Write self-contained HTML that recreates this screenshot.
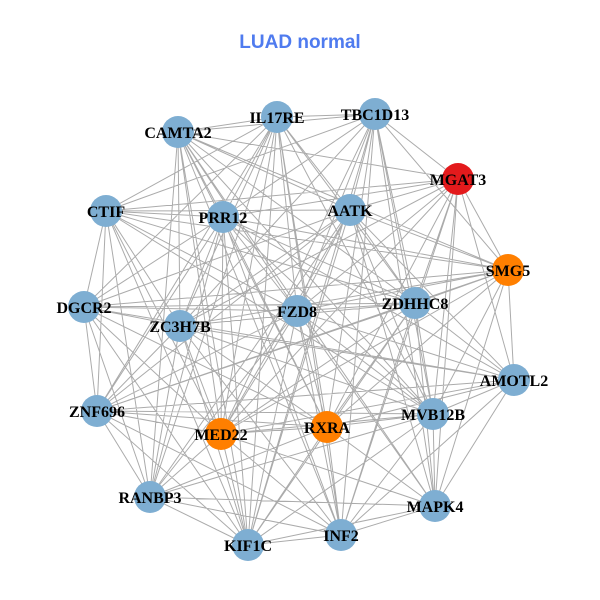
<!DOCTYPE html>
<html><head><meta charset="utf-8"><style>
html,body{margin:0;padding:0;background:#fff;width:600px;height:600px;overflow:hidden}
svg{display:block}
.t{font-family:"Liberation Sans",sans-serif;font-weight:bold;font-size:19px;fill:#4f7bef}
.l{font-family:"Liberation Serif",serif;font-weight:bold;font-size:16px;fill:#000}
</style></head><body>
<svg width="600" height="600" viewBox="0 0 600 600">
<text class="t" x="300" y="48" text-anchor="middle">LUAD normal</text>
<path fill="none" stroke="#ababab" stroke-width="1" d="
M277 117L375 114M277 117L178 132M277 117L106 211M277 117L223 217M277 117L350 210M277 117L84 307M277 117L297 311M277 117L180 326M277 117L97 411M277 117L221 434M277 117L327 427M277 117L433 414M277 117L150 497M277 117L248 545M277 117L341 535M277 117L415 303
M375 114L178 132M375 114L458 179M375 114L223 217M375 114L350 210M375 114L106 211M375 114L297 311M375 114L415 303M375 114L180 326M375 114L221 434M375 114L327 427M375 114L433 414M375 114L435 506M375 114L248 545M375 114L341 535M375 114L508 270
M178 132L223 217M178 132L350 210M178 132L508 270M178 132L297 311M178 132L180 326M178 132L221 434M178 132L327 427M178 132L433 414M178 132L150 497M178 132L435 506M178 132L248 545M178 132L341 535M178 132L458 179M178 132L415 303
M458 179L106 211M458 179L223 217M458 179L350 210M458 179L508 270M458 179L415 303M458 179L514 380M458 179L433 414M458 179L435 506M458 179L341 535M458 179L297 311M458 179L327 427M458 179L221 434M458 179L180 326
M106 211L223 217M106 211L350 210M106 211L508 270M106 211L84 307M106 211L297 311M106 211L180 326M106 211L97 411M106 211L221 434M106 211L150 497M106 211L248 545M106 211L415 303M106 211L433 414
M223 217L508 270M223 217L84 307M223 217L297 311M223 217L415 303M223 217L180 326M223 217L514 380M223 217L97 411M223 217L327 427M223 217L433 414M223 217L150 497M223 217L248 545M223 217L341 535M223 217L221 434
M350 210L508 270M350 210L84 307M350 210L297 311M350 210L415 303M350 210L180 326M350 210L514 380M350 210L221 434M350 210L433 414M350 210L150 497M350 210L435 506M350 210L248 545M350 210L97 411
M508 270L84 307M508 270L297 311M508 270L415 303M508 270L180 326M508 270L514 380M508 270L221 434M508 270L433 414M508 270L435 506M508 270L327 427M508 270L97 411
M84 307L297 311M84 307L415 303M84 307L180 326M84 307L514 380M84 307L97 411M84 307L221 434M84 307L327 427M84 307L150 497M84 307L248 545
M297 311L415 303M297 311L514 380M297 311L97 411M297 311L221 434M297 311L327 427M297 311L433 414M297 311L150 497M297 311L435 506M297 311L248 545M297 311L341 535
M415 303L180 326M415 303L514 380M415 303L97 411M415 303L221 434M415 303L327 427M415 303L433 414M415 303L435 506M415 303L248 545M415 303L341 535
M180 326L514 380M180 326L221 434M180 326L327 427M180 326L433 414M180 326L150 497M180 326L248 545M180 326L341 535M180 326L97 411
M514 380L97 411M514 380L221 434M514 380L327 427M514 380L433 414M514 380L435 506M514 380L341 535
M97 411L221 434M97 411L327 427M97 411L433 414M97 411L150 497M97 411L248 545M97 411L341 535
M221 434L327 427M221 434L433 414M221 434L150 497M221 434L435 506M221 434L248 545M221 434L341 535
M327 427L433 414M327 427L150 497M327 427L435 506M327 427L248 545M327 427L341 535
M433 414L150 497M433 414L435 506M433 414L248 545M433 414L341 535
M150 497L435 506M150 497L248 545M150 497L341 535
M435 506L248 545M435 506L341 535M248 545L341 535"/>
<g>
<circle cx="277" cy="117" r="16" fill="#7eaed2"/>
<circle cx="375" cy="114" r="16" fill="#7eaed2"/>
<circle cx="178" cy="132" r="16" fill="#7eaed2"/>
<circle cx="458" cy="179" r="16" fill="#e31a1c"/>
<circle cx="106" cy="211" r="16" fill="#7eaed2"/>
<circle cx="223" cy="217" r="16" fill="#7eaed2"/>
<circle cx="350" cy="210" r="16" fill="#7eaed2"/>
<circle cx="508" cy="270" r="16" fill="#ff7f00"/>
<circle cx="84" cy="307" r="16" fill="#7eaed2"/>
<circle cx="297" cy="311" r="16" fill="#7eaed2"/>
<circle cx="415" cy="303" r="16" fill="#7eaed2"/>
<circle cx="180" cy="326" r="16" fill="#7eaed2"/>
<circle cx="514" cy="380" r="16" fill="#7eaed2"/>
<circle cx="97" cy="411" r="16" fill="#7eaed2"/>
<circle cx="221" cy="434" r="16" fill="#ff7f00"/>
<circle cx="327" cy="427" r="16" fill="#ff7f00"/>
<circle cx="433" cy="414" r="16" fill="#7eaed2"/>
<circle cx="150" cy="497" r="16" fill="#7eaed2"/>
<circle cx="435" cy="506" r="16" fill="#7eaed2"/>
<circle cx="248" cy="545" r="16" fill="#7eaed2"/>
<circle cx="341" cy="535" r="16" fill="#7eaed2"/>
</g>
<g class="l" text-anchor="middle">
<text x="277" y="123">IL17RE</text>
<text x="375" y="120">TBC1D13</text>
<text x="178" y="138">CAMTA2</text>
<text x="458" y="185">MGAT3</text>
<text x="106" y="217">CTIF</text>
<text x="223" y="223">PRR12</text>
<text x="350" y="216">AATK</text>
<text x="508" y="276">SMG5</text>
<text x="84" y="313">DGCR2</text>
<text x="297" y="317">FZD8</text>
<text x="415" y="309">ZDHHC8</text>
<text x="180" y="332">ZC3H7B</text>
<text x="514" y="386">AMOTL2</text>
<text x="97" y="417">ZNF696</text>
<text x="221" y="440">MED22</text>
<text x="327" y="433">RXRA</text>
<text x="433" y="420">MVB12B</text>
<text x="150" y="503">RANBP3</text>
<text x="435" y="512">MAPK4</text>
<text x="248" y="551">KIF1C</text>
<text x="341" y="541">INF2</text>
</g>
</svg>
</body></html>
